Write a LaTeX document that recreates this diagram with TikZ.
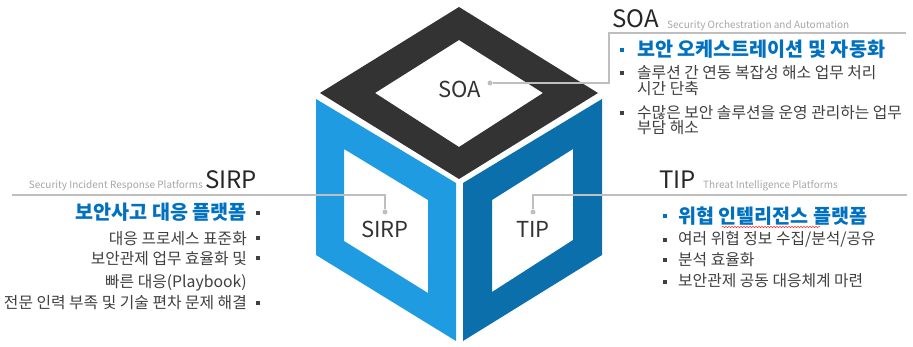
\documentclass[tikz,border=0pt]{standalone}
\usepackage{fontspec}
\setmainfont{Noto Sans CJK KR}
\usetikzlibrary{decorations.pathmorphing}
\definecolor{cubetop}{HTML}{333333}
\definecolor{cubeleft}{HTML}{1E9BE1}
\definecolor{cuberight}{HTML}{0B6FAB}
\definecolor{keyblue}{HTML}{0070C0}
\definecolor{bodygray}{HTML}{404040}
\definecolor{linegray}{HTML}{BFBFBF}
\definecolor{subgray}{HTML}{A6A6A6}
\begin{document}
\begin{tikzpicture}[x=1pt,y=-1pt,
  facelbl/.style={font=\fontsize{22}{22}\selectfont,text=black!80,inner sep=0pt},
  headlbl/.style={font=\fontsize{24}{24}\selectfont,text=black!85,inner sep=0pt,anchor=base west},
  sublbl/.style={font=\fontsize{10}{10}\selectfont,text=subgray,inner sep=0pt},
  keytxt/.style={font=\bfseries\fontsize{19.6}{19.6}\selectfont,text=keyblue,inner sep=0pt},
  bodytxt/.style={font=\fontsize{15.8}{15.8}\selectfont,text=bodygray,inner sep=0pt},
  sqbullet/.style={fill=#1,inner sep=0pt,minimum size=3.5pt},
  sqbullet/.default=bodygray,
  dotpin/.style={circle,fill=linegray,inner sep=0pt,minimum size=5pt},
  leader/.style={draw=linegray,line width=1.2pt}]
\useasboundingbox (0,0) rectangle (913,347);
% cube faces with their windows
\fill[cubetop,even odd rule] (459,7) -- (598,93) -- (459,179) -- (320,93) -- cycle
  (459,40) -- (543,93) -- (459,147) -- (375,93) -- cycle;
\fill[cubeleft,even odd rule] (316,99) -- (456,183) -- (456,341) -- (316,255) -- cycle
  (344,149) -- (428,200) -- (428,293) -- (344,241) -- cycle;
\fill[cuberight,even odd rule] (602,99) -- (463,183) -- (463,341) -- (602,255) -- cycle
  (573,149) -- (492,200) -- (492,292) -- (573,240) -- cycle;
\node[facelbl] (soaface) at (460,89) {SOA};
\node[facelbl] (sirpface) at (385,229) {SIRP};
\node[facelbl] (tipface) at (533,229) {TIP};
% leader lines
\node[dotpin] (soapin) at (490,83) {};
\node[dotpin] (sirppin) at (385,212) {};
\node[dotpin] (tippin) at (533,212) {};
\coordinate (soabend) at (609,83);
\coordinate (soaend) at (906,33);
\coordinate (sirpend) at (12,195);
\coordinate (tipend) at (907,195);
\draw[leader] (soapin) -- (soabend) |- (soaend);
\draw[leader] (sirppin) |- (sirpend);
\draw[leader] (tippin) |- (tipend);
% SOA block
\node[headlbl] (soahead) at (612,28) {SOA};
\node[sublbl,anchor=base west] (soasub) at (667,29) {Security Orchestration and Automation};
\node[sqbullet=keyblue] (soab1) at (622,50) {};
\node[keytxt,anchor=base west] (soak) at (637,56.5) {보안 오케스트레이션 및 자동화};
\node[sqbullet] (soab2) at (622,73) {};
\node[bodytxt,anchor=base west] (soat1) at (637,78.2) {솔루션 간 연동 복잡성 해소 업무 처리};
\node[bodytxt,anchor=base west] (soat1b) at (637,94.7) {시간 단축};
\node[sqbullet] (soab3) at (622,113) {};
\node[bodytxt,anchor=base west] (soat2) at (637,118.7) {수많은 보안 솔루션을 운영 관리하는 업무};
\node[bodytxt,anchor=base west] (soat2b) at (637,133.2) {부담 해소};
% SIRP block
\node[headlbl,anchor=base east] (sirphead) at (257,189) {SIRP};
\node[sublbl,anchor=base east] (sirpsub) at (203,189) {Security Incident Response Platforms};
\node[sqbullet] (sirpb1) at (258,213) {};
\node[keytxt,anchor=base east] (sirpk) at (247,220) {보안사고 대응 플랫폼};
\node[sqbullet] (sirpb2) at (258,238) {};
\node[bodytxt,anchor=base east] (sirpt1) at (247,244.7) {대응 프로세스 표준화};
\node[sqbullet] (sirpb3) at (258,258) {};
\node[bodytxt,anchor=base east] (sirpt2) at (247,264.7) {보안관제 업무 효율화 및};
\node[bodytxt,anchor=base east] (sirpt2b) at (247,287.7) {빠른 대응(Playbook)};
\node[sqbullet] (sirpb4) at (258,303) {};
\node[bodytxt,anchor=base east] (sirpt3) at (247,308.7) {전문 인력 부족 및 기술 편차 문제 해결};
% TIP block
\node[headlbl] (tiphead) at (659,189) {TIP};
\node[sublbl,anchor=base west] (tipsub) at (703,189) {Threat Intelligence Platforms};
\node[sqbullet=keyblue] (tipb1) at (665,216) {};
\node[keytxt,anchor=base west] (tipk) at (678,224) {위협 인텔리전스 플랫폼};
\draw[red!80,line width=0.5pt,decorate,decoration={snake,amplitude=0.8pt,segment length=3pt}] (722,227) -- (820,227);
\node[sqbullet] (tipb2) at (665,240) {};
\node[bodytxt,anchor=base west] (tipt1) at (678,244.7) {여러 위협 정보 수집/분석/공유};
\node[sqbullet] (tipb3) at (665,260) {};
\node[bodytxt,anchor=base west] (tipt2) at (678,265.7) {분석 효율화};
\node[sqbullet] (tipb4) at (665,282) {};
\node[bodytxt,anchor=base west] (tipt3) at (678,286.7) {보안관제 공동 대응체계 마련};
\end{tikzpicture}
\end{document}
